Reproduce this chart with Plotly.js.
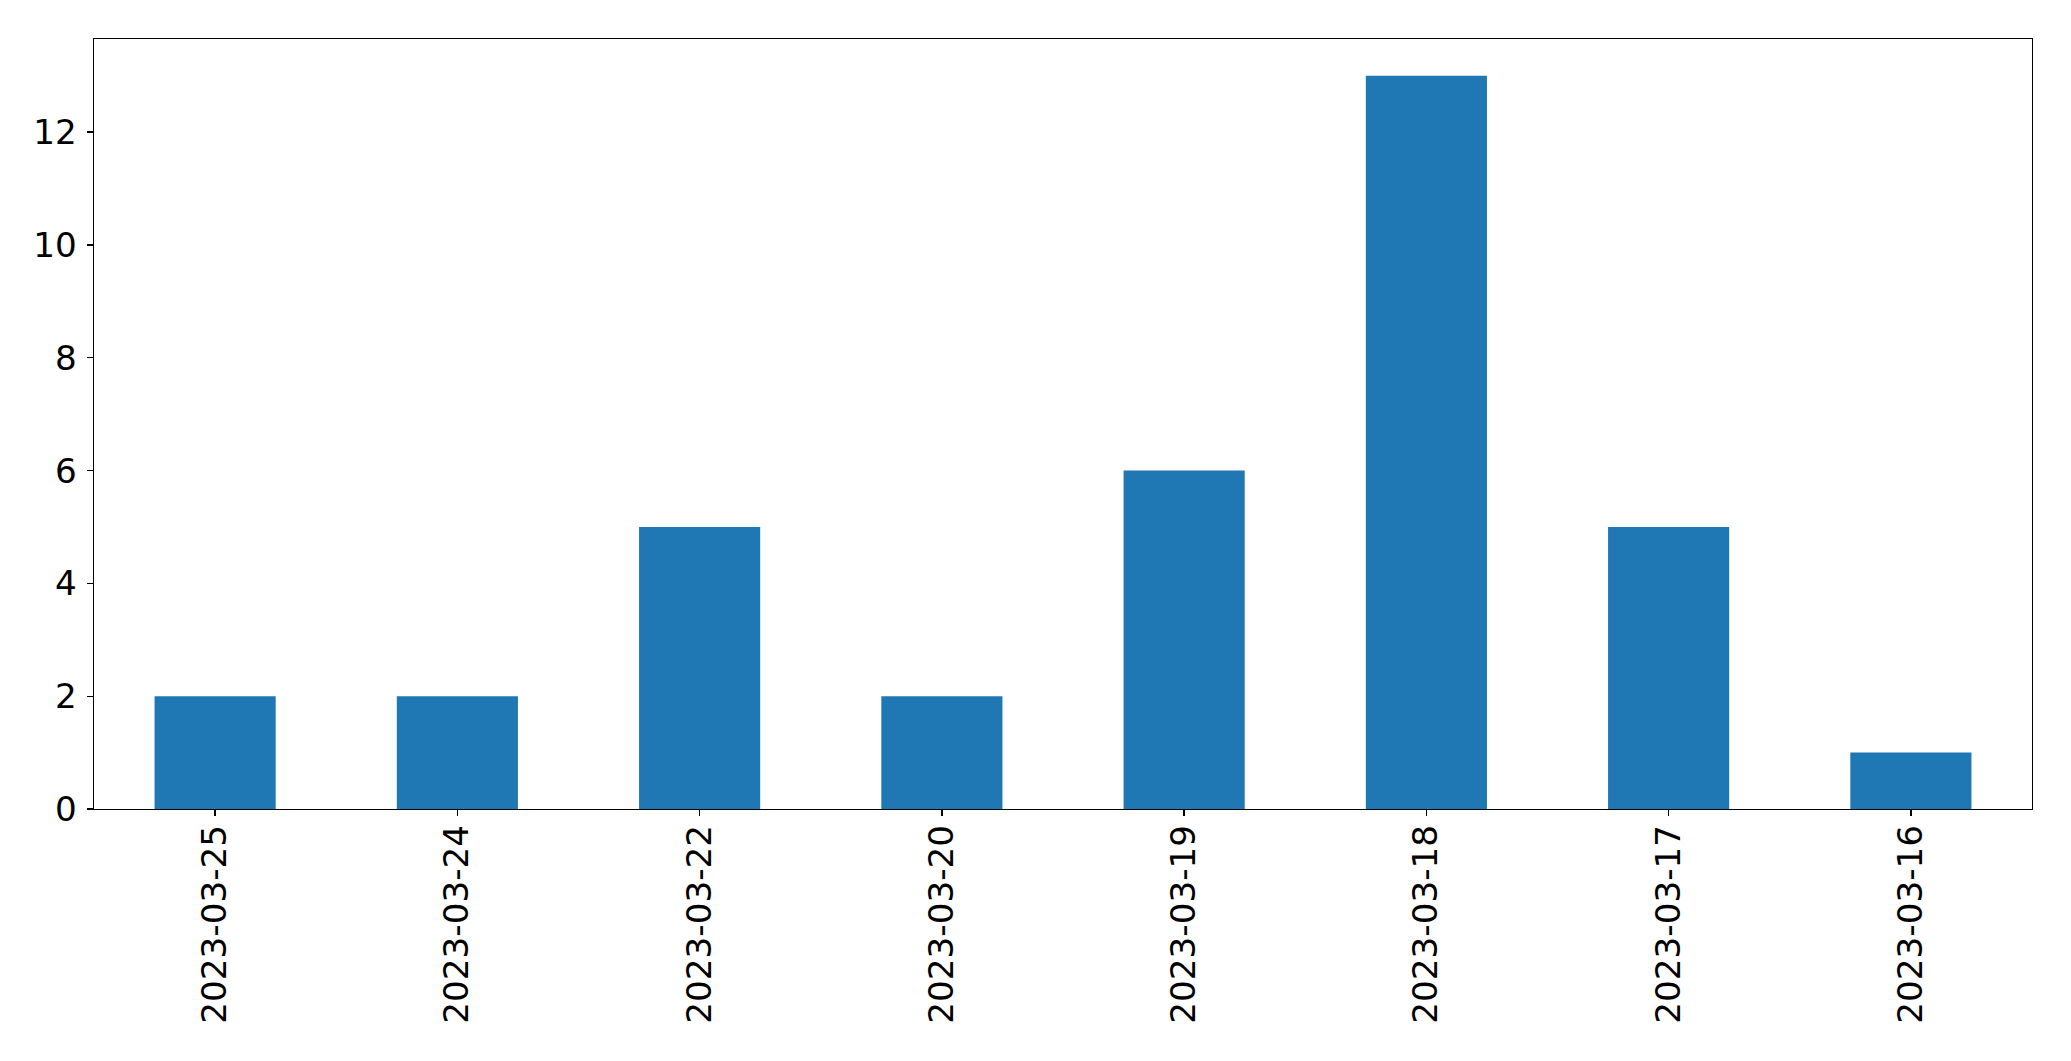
<!DOCTYPE html>
<html>
<head>
<meta charset="utf-8">
<script src="https://cdn.plot.ly/plotly-3.0.1.min.js"></script>
<style>html,body{margin:0;padding:0;background:#fff;}#chart{width:2071px;height:1061px;}</style>
</head>
<body>
<div id="chart"></div>
<script>
const categories = ["2023-03-25","2023-03-24","2023-03-22","2023-03-20","2023-03-19","2023-03-18","2023-03-17","2023-03-16"];
const counts = [2, 2, 5, 2, 6, 13, 5, 1];
const yTicks = [0, 2, 4, 6, 8, 10, 12];

const trace = {
  type: 'bar',
  x: categories,
  y: counts,
  width: 0.5,
  marker: {color: '#1f77b4', line: {width: 0}},
  hoverinfo: 'x+y'
};

const axisFont = {family: 'DejaVu Sans, sans-serif', size: 34.2, color: '#000'};

const layout = {
  width: 2071,
  height: 1061,
  margin: {l: 94, r: 39, t: 39, b: 252, pad: 0},
  paper_bgcolor: '#fff',
  plot_bgcolor: '#fff',
  showlegend: false,
  bargap: 0.5,
  xaxis: {
    type: 'category',
    range: [-0.5, 7.5],
    showline: true, linecolor: '#000', linewidth: 1.3, mirror: true,
    showgrid: false, zeroline: false,
    ticks: 'outside', ticklen: 6, tickwidth: 1.3, tickcolor: '#000',
    tickangle: -90,
    tickfont: axisFont,
    ticklabelstandoff: -5
  },
  yaxis: {
    range: [0, 13.65],
    tickvals: yTicks,
    ticktext: yTicks.map(String),
    showline: true, linecolor: '#000', linewidth: 1.3, mirror: true,
    showgrid: false, zeroline: false,
    ticks: 'outside', ticklen: 6, tickwidth: 1.3, tickcolor: '#000',
    tickfont: axisFont,
    ticklabelstandoff: 3
  }
};

Plotly.newPlot('chart', [trace], layout, {displayModeBar: false, staticPlot: true});
</script>
</body>
</html>
